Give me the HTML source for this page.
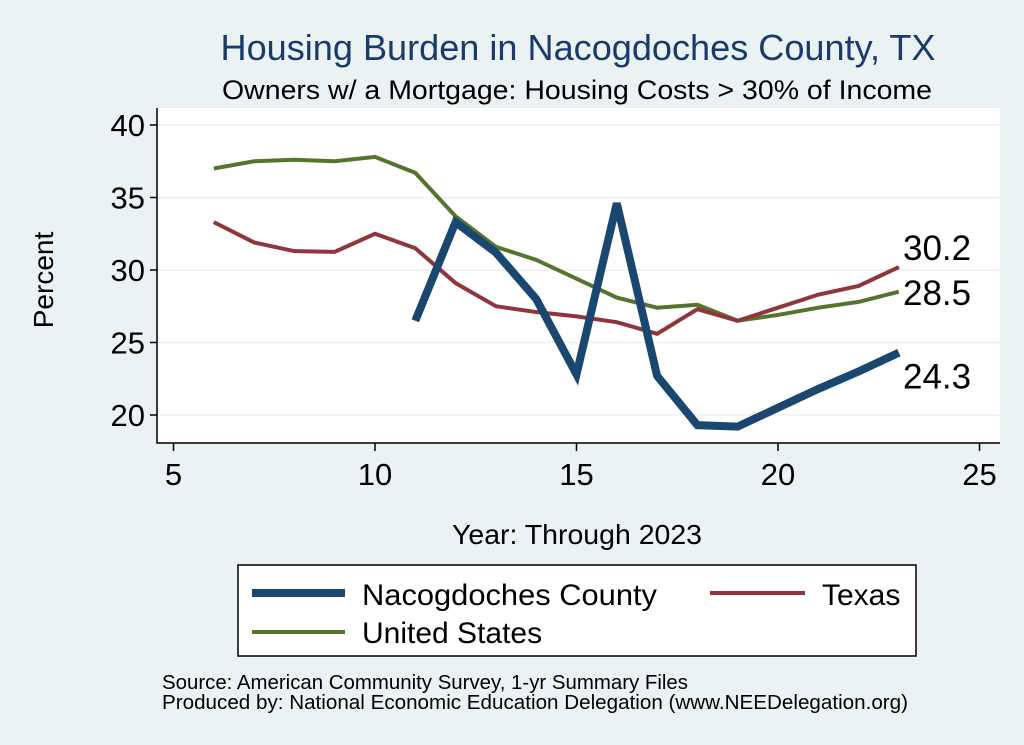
<!DOCTYPE html>
<html><head><meta charset="utf-8"><style>
body{margin:0;background:#eaf2f3;font-family:"Liberation Sans",sans-serif}
svg{display:block}
</style></head><body>
<svg width="1024" height="745">
<rect width="1024" height="745" fill="#eaf2f3"/>
<text x="578" y="60" font-size="36" fill="#1a3a6b" text-anchor="middle" textLength="715" lengthAdjust="spacingAndGlyphs">Housing Burden in Nacogdoches County, TX</text>
<text x="577" y="99" font-size="27" fill="#000" text-anchor="middle" textLength="710" lengthAdjust="spacingAndGlyphs">Owners w/ a Mortgage: Housing Costs &gt; 30% of Income</text>
<rect x="157" y="108" width="843" height="335" fill="#fff"/>
<g id="grid"></g><g id="axes"></g><g id="lines"></g>
<text x="577" y="544" font-size="28" text-anchor="middle" textLength="250" lengthAdjust="spacingAndGlyphs">Year: Through 2023</text>
<text transform="translate(53,280) rotate(-90)" font-size="28" text-anchor="middle">Percent</text>
<g>
<rect x="238" y="565" width="678" height="91" fill="#fff" stroke="#000" stroke-width="1.5"/>
<line x1="252" y1="593" x2="345" y2="593" stroke="#1a476f" stroke-width="8"/>
<text x="362" y="605" font-size="30" textLength="295" lengthAdjust="spacingAndGlyphs">Nacogdoches County</text>
<line x1="710" y1="593" x2="805" y2="593" stroke="#90353b" stroke-width="4"/>
<text x="822" y="605" font-size="30">Texas</text>
<line x1="252" y1="632" x2="345" y2="632" stroke="#55752f" stroke-width="4"/>
<text x="362" y="643" font-size="30">United States</text>
</g>
<text x="162" y="689" font-size="20" textLength="526" lengthAdjust="spacingAndGlyphs">Source: American Community Survey, 1-yr Summary Files</text>
<text x="162" y="709" font-size="20" textLength="746" lengthAdjust="spacingAndGlyphs">Produced by: National Economic Education Delegation (www.NEEDelegation.org)</text>
</svg>
<script>
const years=[6,7,8,9,10,11,12,13,14,15,16,17,18,19,20,21,22,23];
const nacYears=[11,12,13,14,15,16,17,18,19,20,21,22,23];
const nacVals=[26.5,33.3,31.2,28.0,22.8,34.6,22.7,19.3,19.2,20.5,21.8,23.0,24.3];
const txVals=[33.3,31.9,31.3,31.25,32.5,31.5,29.1,27.5,27.1,26.8,26.4,25.6,27.3,26.5,27.4,28.3,28.9,30.2];
const usVals=[37.0,37.5,37.6,37.5,37.8,36.7,33.7,31.6,30.7,29.4,28.1,27.4,27.6,26.5,26.9,27.4,27.8,28.5];
const xTicks=[5,10,15,20,25];
const yTicks=[20,25,30,35,40];
const NS="http://www.w3.org/2000/svg";
const X=v=>173.5+(v-5)*40.3;
const Y=v=>415-(v-20)*14.5;
function mk(t,a,p){const e=document.createElementNS(NS,t);for(const k in a)e.setAttribute(k,a[k]);p.appendChild(e);return e;}
const grid=document.getElementById('grid'),axes=document.getElementById('axes'),lines=document.getElementById('lines');
yTicks.forEach(t=>{
 const g=mk('line',{x1:157,x2:1000,y1:Y(t),y2:Y(t),stroke:'#eaf2f3','stroke-width':1.5},grid);
 
 
 const tk=mk('line',{x1:150,x2:157,y1:Y(t),y2:Y(t),stroke:'#000','stroke-width':1.5},axes);
 
 
 const l=mk('text',{x:145,y:Y(t)+11,'font-size':31,'text-anchor':'end'},axes);l.textContent=t;
 
 
});
xTicks.forEach(t=>{
 const tk=mk('line',{x1:X(t),x2:X(t),y1:443,y2:451,stroke:'#000','stroke-width':1.5},axes);
 
 
 const l=mk('text',{x:X(t),y:485,'font-size':31,'text-anchor':'middle'},axes);l.textContent=t;
 
 
});
const ax=mk('path',{d:'M157,108 V443 H1000',fill:'none',stroke:'#000','stroke-width':1.5},axes);


function series(xs,vs,color,w,name){
 const p=mk('polyline',{points:xs.map((x,i)=>X(x)+','+Y(vs[i])).join(' '),fill:'none',stroke:color,'stroke-width':w,'stroke-linejoin':'miter'},lines);
 
 
}
series(years,usVals,'#55752f',4,'us-line');
series(years,txVals,'#90353b',4,'texas-line');
series(nacYears,nacVals,'#1a476f',8,'nacogdoches-line');
function endLabel(v,dy,name){
 const l=mk('text',{x:903,y:Y(v)+dy,'font-size':35},lines);l.textContent=v.toFixed(1);
 
 
}
endLabel(txVals[txVals.length-1],-7,'texas-end-label');
endLabel(usVals[usVals.length-1],13,'us-end-label');
endLabel(nacVals[nacVals.length-1],36,'nacogdoches-end-label');
</script>
</body></html>
